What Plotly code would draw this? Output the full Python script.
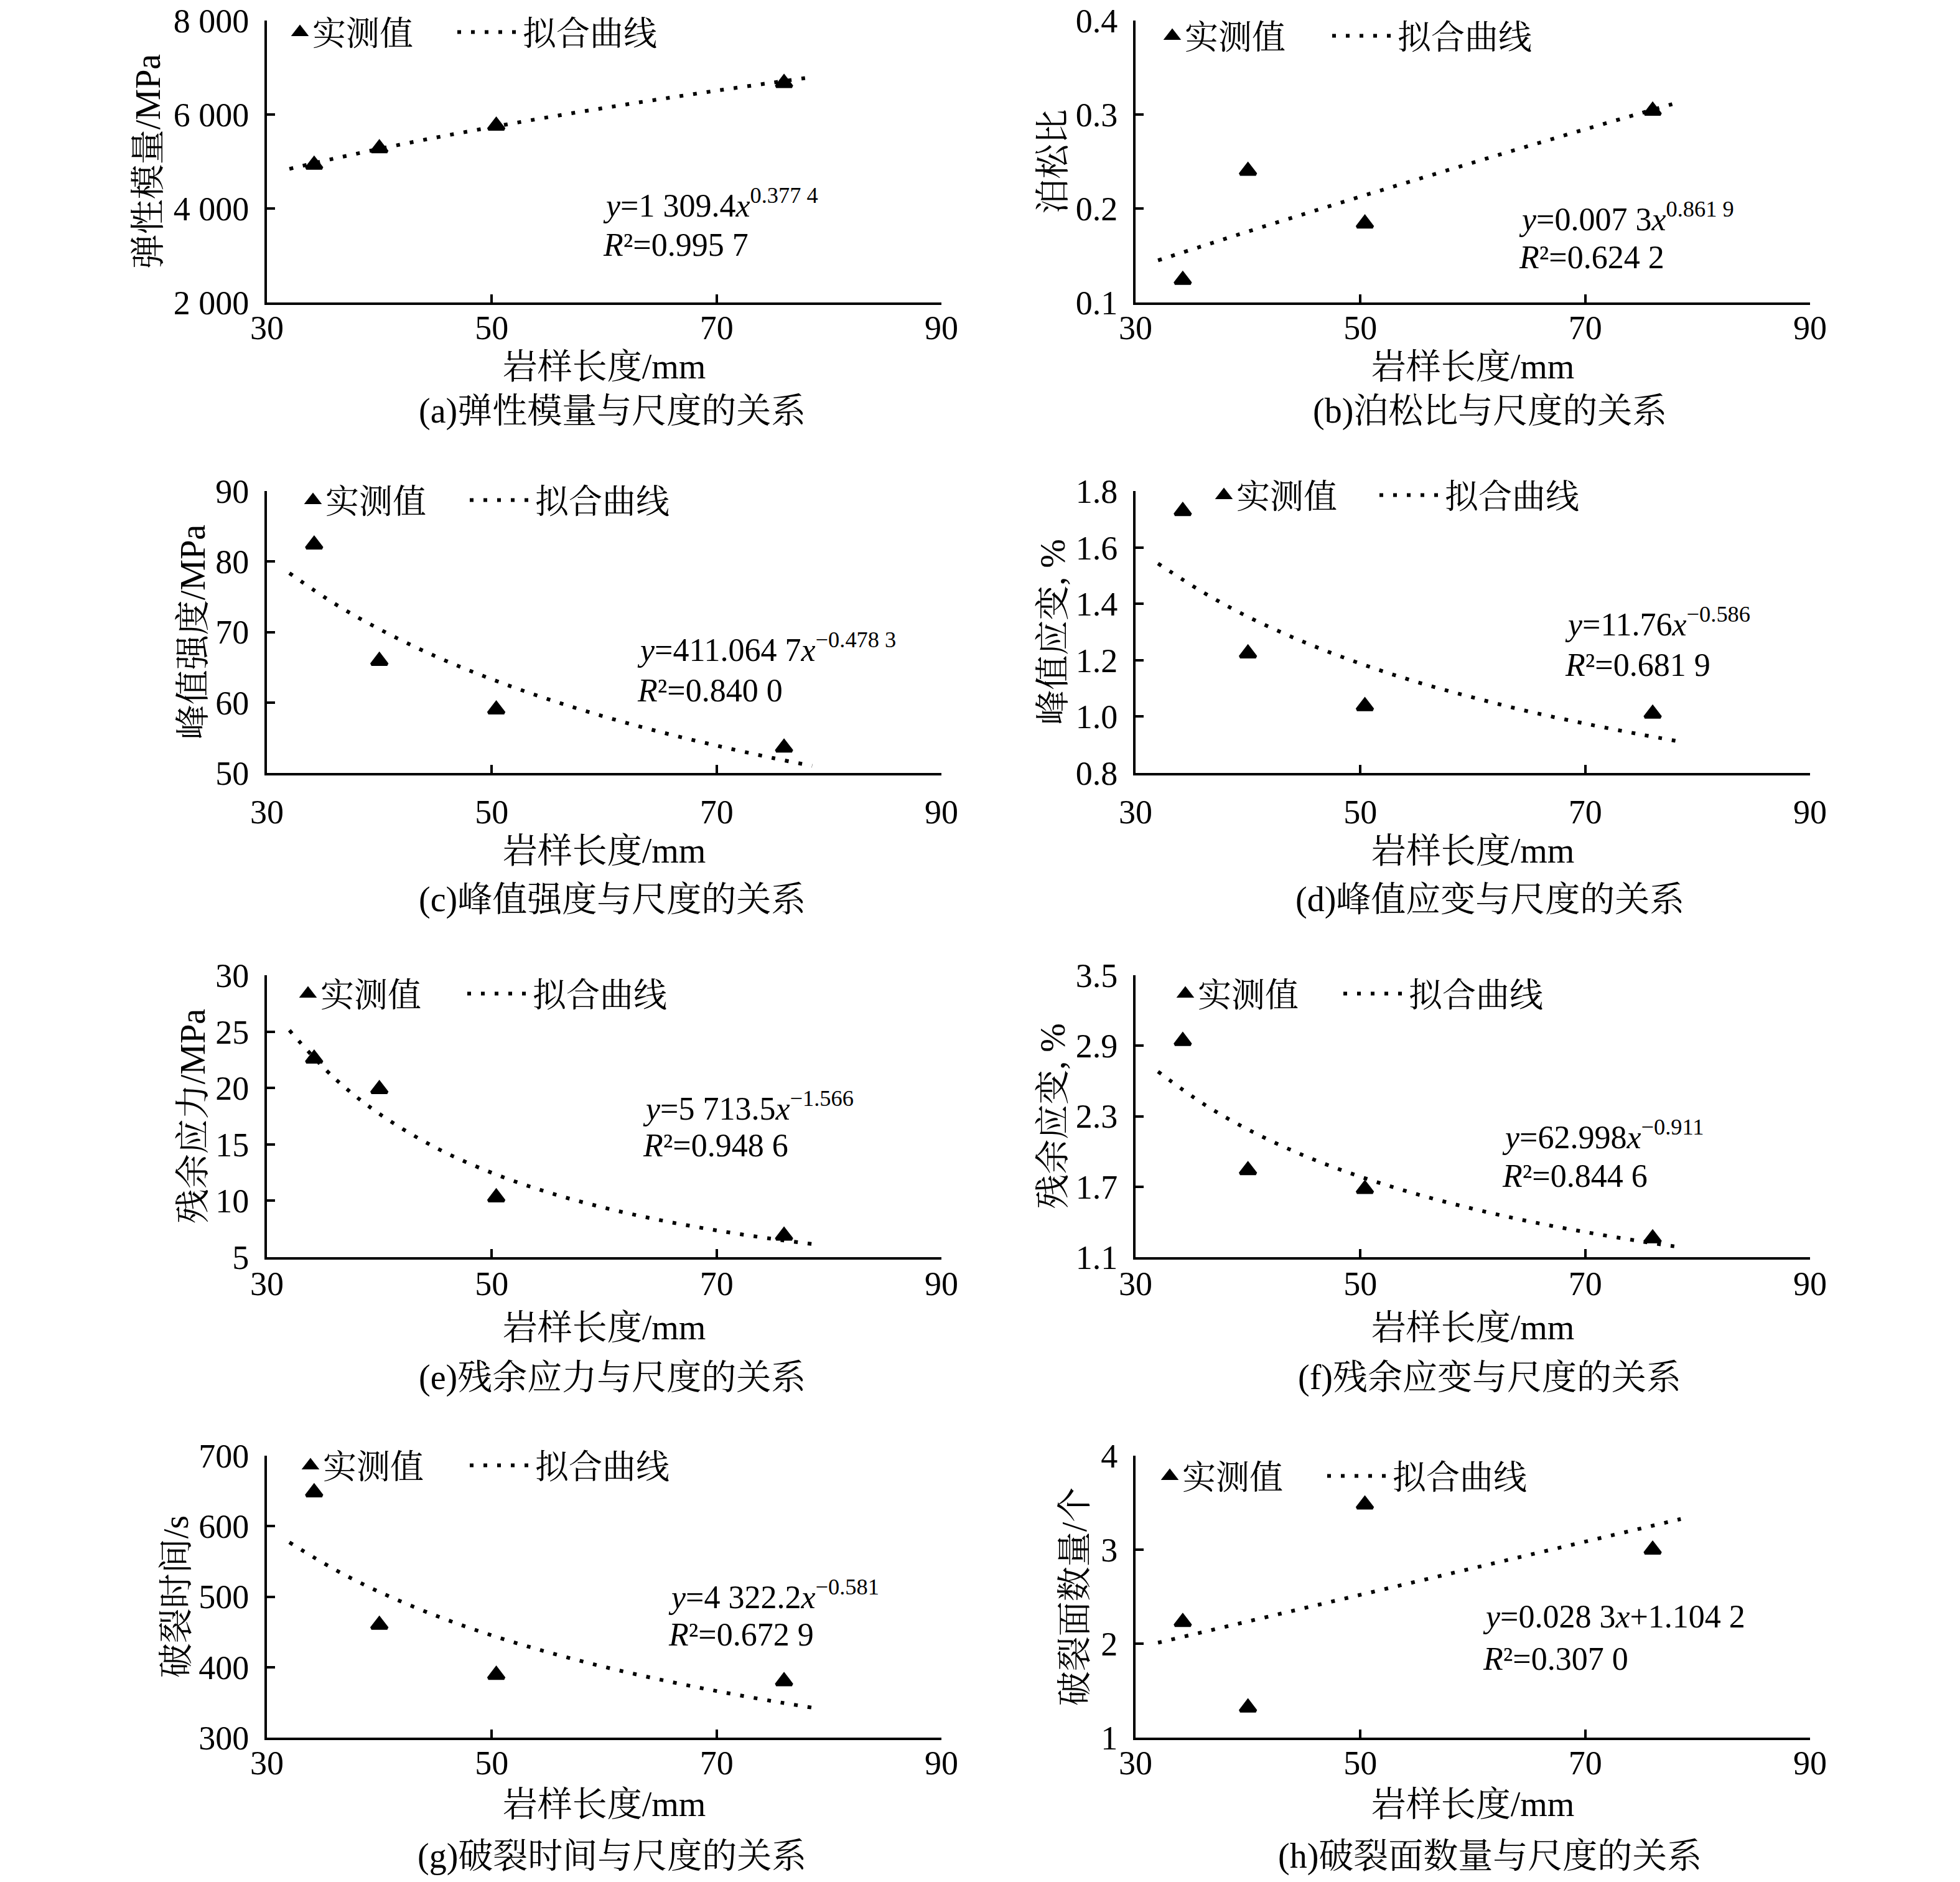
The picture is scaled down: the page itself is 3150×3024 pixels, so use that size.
import plotly.graph_objects as go

# ---------------- data ----------------
X_TICKS = [30, 50, 70, 90]
SAMPLE_LEN = [34.2, 40.0, 50.4, 76.0]           # 岩样长度/mm
FIT_X = [32, 36, 40, 45, 50, 55, 60, 65, 70, 75, 78.5]

# (a) 弹性模量/MPa
E_MEAS = [4930, 5280, 5760, 6670]
E_FIT = [4843, 5063, 5269, 5509, 5731, 5942, 6140, 6328, 6508, 6679, 6795]
E_TICKS = [2000, 4000, 6000, 8000]
E_TICKTEXT = ["2 000", "4 000", "6 000", "8 000"]

# (b) 泊松比
NU_MEAS = [0.124, 0.240, 0.184, 0.304]
NU_FIT = [0.1448, 0.1602, 0.1755, 0.1942, 0.2126, 0.2308, 0.2488, 0.2666, 0.2843, 0.3016, 0.3137]
NU_TICKS = [0.1, 0.2, 0.3, 0.4]
NU_TICKTEXT = ["0.1", "0.2", "0.3", "0.4"]

# (c) 峰值强度/MPa
PS_MEAS = [82.4, 65.9, 59.0, 53.6]
PS_FIT = [78.35, 74.04, 70.41, 66.55, 63.30, 60.47, 58.00, 55.82, 53.88, 52.12, 51.01]
PS_TICKS = [50, 60, 70, 80, 90]
PS_TICKTEXT = ["50", "60", "70", "80", "90"]

# (d) 峰值应变, %
PE_MEAS = [1.729, 1.224, 1.037, 1.010]
PE_FIT = [1.543, 1.441, 1.354, 1.264, 1.188, 1.123, 1.068, 1.018, 0.975, 0.936, 0.911]
PE_TICKS = [0.8, 1.0, 1.2, 1.4, 1.6, 1.8]
PE_TICKTEXT = ["0.8", "1.0", "1.2", "1.4", "1.6", "1.8"]

# (e) 残余应力/MPa
RS_MEAS = [22.6, 19.9, 10.3, 6.9]
RS_FIT = [25.11, 20.88, 17.71, 14.72, 12.48, 10.75, 9.386, 8.278, 7.371, 6.616, 6.160]
RS_TICKS = [5, 10, 15, 20, 25, 30]
RS_TICKTEXT = ["5", "10", "15", "20", "25", "30"]

# (f) 残余应变, %
RE_MEAS = [2.94, 1.84, 1.68, 1.26]
RE_FIT = [2.680, 2.407, 2.187, 1.964, 1.785, 1.637, 1.512, 1.405, 1.314, 1.234, 1.184]
RE_TICKS = [1.1, 1.7, 2.3, 2.9, 3.5]
RE_TICKTEXT = ["1.1", "1.7", "2.3", "2.9", "3.5"]

# (g) 破裂时间/s
FT_MEAS = [648, 460, 389, 380]
FT_FIT = [577.0, 538.8, 506.7, 473.2, 445.1, 421.2, 400.4, 382.2, 366.1, 351.7, 342.5]
FT_TICKS = [300, 400, 500, 600, 700]
FT_TICKTEXT = ["300", "400", "500", "600", "700"]

# (h) 破裂面数量/个 (linear fit)
FN_MEAS = [2.23, 1.32, 3.48, 3.00]
FN_FIT_X = [32, 78.5]
FN_FIT = [2.010, 3.326]
FN_TICKS = [1, 2, 3, 4]
FN_TICKTEXT = ["1", "2", "3", "4"]

Y_TITLES = ["弹性模量/MPa", "泊松比", "峰值强度/MPa", "峰值应变, %",
            "残余应力/MPa", "残余应变, %", "破裂时间/s", "破裂面数量/个"]
CAPTIONS = ["(a)弹性模量与尺度的关系", "(b)泊松比与尺度的关系",
            "(c)峰值强度与尺度的关系", "(d)峰值应变与尺度的关系",
            "(e)残余应力与尺度的关系", "(f)残余应变与尺度的关系",
            "(g)破裂时间与尺度的关系", "(h)破裂面数量与尺度的关系"]
EQ_TEXT = ["<i>y</i>=1 309.4<i>x</i><sup>0.377 4</sup>",
           "<i>y</i>=0.007 3<i>x</i><sup>0.861 9</sup>",
           "<i>y</i>=411.064 7<i>x</i><sup>−0.478 3</sup>",
           "<i>y</i>=11.76<i>x</i><sup>−0.586</sup>",
           "<i>y</i>=5 713.5<i>x</i><sup>−1.566</sup>",
           "<i>y</i>=62.998<i>x</i><sup>−0.911</sup>",
           "<i>y</i>=4 322.2<i>x</i><sup>−0.581</sup>",
           "<i>y</i>=0.028 3<i>x</i>+1.104 2"]
R2_TEXT = ["0.995 7", "0.624 2", "0.840 0", "0.681 9",
           "0.948 6", "0.844 6", "0.672 9", "0.307 0"]
LEGEND_MEAS = "实测值"
LEGEND_FIT = "拟合曲线"
X_TITLE = "岩样长度/mm"

# ---------------- layout constants ----------------
FONT = "Liberation Serif, 'Noto Serif CJK SC', 'Noto Sans CJK SC', serif"
W, H = 3150, 3024
XDOM_L = [429 / W, 1513 / W]
XDOM_R = [1825 / W, 2909 / W]
ROW_BOTTOM = [486, 1242, 2020, 2792]      # px from top
ROW_H = 453
YDOMS = [[1 - b / H, 1 - (b - ROW_H) / H] for b in ROW_BOTTOM]
XLABEL_STANDOFF = [-10, 12, -8, -10]
XTITLE_STANDOFF = [14, 14, 22, 18]
YTITLE_STANDOFF = [4, 0, 0, 0, 0, 0, 0, 6]
CAP_Y = [661, 1445, 2213, 2982]

# legend anchor points in px: (marker legend left, fit legend left, centre y)
LEG_POS = [(462, 730, 52), (1864, 2136, 58), (483, 750, 804), (1947, 2212, 796),
           (475, 746, 1597), (1885, 2154, 1597), (479, 750, 2355), (1860, 2128, 2372)]

panels = [
    dict(meas=E_MEAS, fitx=FIT_X, fit=E_FIT, ticks=E_TICKS, tt=E_TICKTEXT, eq=(59.8, 4107, 3227)),
    dict(meas=NU_MEAS, fitx=FIT_X, fit=NU_FIT, ticks=NU_TICKS, tt=NU_TICKTEXT, eq=(64.0, 0.191, 0.148)),
    dict(meas=PS_MEAS, fitx=FIT_X, fit=PS_FIT, ticks=PS_TICKS, tt=PS_TICKTEXT, eq=(62.8, 67.8, 61.7)),
    dict(meas=PE_MEAS, fitx=FIT_X, fit=PE_FIT, ticks=PE_TICKS, tt=PE_TICKTEXT, eq=(68.1, 1.336, 1.184)),
    dict(meas=RS_MEAS, fitx=FIT_X, fit=RS_FIT, ticks=RS_TICKS, tt=RS_TICKTEXT, eq=(63.3, 18.4, 14.9)),
    dict(meas=RE_MEAS, fitx=FIT_X, fit=RE_FIT, ticks=RE_TICKS, tt=RE_TICKTEXT, eq=(62.5, 2.14, 1.79)),
    dict(meas=FT_MEAS, fitx=FIT_X, fit=FT_FIT, ticks=FT_TICKS, tt=FT_TICKTEXT, eq=(65.6, 503, 446)),
    dict(meas=FN_MEAS, fitx=FN_FIT_X, fit=FN_FIT, ticks=FN_TICKS, tt=FN_TICKTEXT, eq=(60.8, 2.29, 1.84)),
]

fig = go.Figure()
layout = dict(
    width=W, height=H, margin=dict(l=0, r=0, t=0, b=0, autoexpand=False),
    paper_bgcolor="white", plot_bgcolor="white",
    font=dict(family=FONT, size=54, color="black"),
    showlegend=True,
)
annotations = []

for i, p in enumerate(panels):
    n = i + 1
    sfx = "" if n == 1 else str(n)
    xa, ya = "x" + sfx, "y" + sfx
    lm_id = "legend" if i == 0 else "legend" + str(2 * i + 1)
    lf_id = "legend" + str(2 * i + 2)
    row, col = divmod(i, 2)
    xdom = XDOM_L if col == 0 else XDOM_R
    ydom = YDOMS[row]

    fig.add_trace(go.Scatter(
        x=SAMPLE_LEN, y=p["meas"], mode="markers", name=LEGEND_MEAS,
        marker=dict(symbol="triangle-up", size=22, color="black",
                    line=dict(color="black", width=5)),
        xaxis=xa, yaxis=ya, legend=lm_id, cliponaxis=False))
    fig.add_trace(go.Scatter(
        x=p["fitx"], y=p["fit"], mode="lines", name=LEGEND_FIT,
        line=dict(color="black", width=6, dash="6px,16px", shape="spline"),
        xaxis=xa, yaxis=ya, legend=lf_id, cliponaxis=False))

    layout["xaxis" + sfx] = dict(
        domain=xdom, anchor=ya, range=[30, 90], tickvals=X_TICKS,
        ticks="inside", ticklen=13, tickwidth=4, tickcolor="black",
        showline=True, linecolor="black", linewidth=4, showgrid=False,
        zeroline=False, automargin=False, tickfont=dict(size=54),
        ticklabelstandoff=XLABEL_STANDOFF[row],
        title=dict(text=X_TITLE, font=dict(size=56), standoff=XTITLE_STANDOFF[row]))
    layout["yaxis" + sfx] = dict(
        domain=ydom, anchor=xa, range=[p["ticks"][0], p["ticks"][-1]],
        tickvals=p["ticks"], ticktext=p["tt"],
        ticks="inside", ticklen=13, tickwidth=4, tickcolor="black",
        showline=True, linecolor="black", linewidth=4, showgrid=False,
        zeroline=False, automargin=False, tickfont=dict(size=54),
        ticklabelstandoff=14,
        title=dict(text=Y_TITLES[i], font=dict(size=56), standoff=YTITLE_STANDOFF[i]))

    mx, fx, ly = LEG_POS[i]
    common = dict(yanchor="middle", xanchor="left", xref="paper", yref="paper",
                  orientation="h", bgcolor="rgba(0,0,0,0)", font=dict(size=54),
                  y=1 - ly / H, borderwidth=0)
    layout[lm_id] = dict(x=mx / W, itemwidth=30, **common)
    layout[lf_id] = dict(x=fx / W, itemwidth=100, **common)

    ex, ey1, ey2 = p["eq"]
    annotations.append(dict(x=ex, y=ey1, xref=xa, yref=ya, text=EQ_TEXT[i],
                            showarrow=False, xanchor="left", yanchor="middle",
                            font=dict(size=52)))
    annotations.append(dict(x=ex, y=ey2, xref=xa, yref=ya,
                            text="<i>R</i>²=" + R2_TEXT[i],
                            showarrow=False, xanchor="left", yanchor="middle",
                            font=dict(size=52)))
    cap_x = 0.3123 if col == 0 else 0.760
    annotations.append(dict(x=cap_x, y=1 - CAP_Y[row] / H, xref="paper", yref="paper",
                            text=CAPTIONS[i], showarrow=False,
                            xanchor="center", yanchor="middle",
                            font=dict(size=56)))

layout["annotations"] = annotations
fig.update_layout(**layout)
fig.write_html("out.html", config={"displayModeBar": False},
               post_script="document.body.style.margin='0px';")
